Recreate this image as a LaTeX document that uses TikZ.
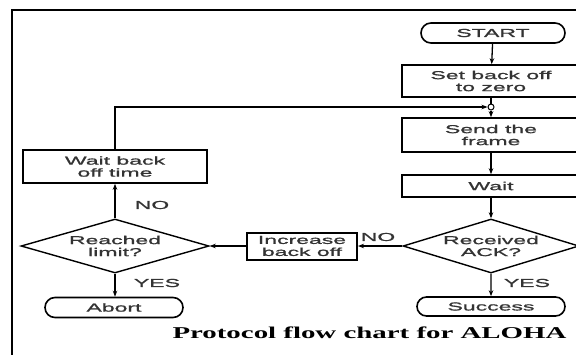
\documentclass[tikz,border=0pt]{standalone}
\usepackage{fontspec}
\newfontfamily\nf[FakeStretch=2.0,FakeBold=1.2]{Liberation Sans}
\newfontfamily\cf[FakeStretch=1.75]{Liberation Serif}
\usetikzlibrary{arrows.meta,shapes.geometric,shapes.misc}
\begin{document}
\begin{tikzpicture}[x=1pt,y=-1pt,
  every node/.style={font=\nf\fontsize{11.5}{12}\selectfont, text=black!80},
  proc/.style={draw, line width=1.6pt, align=center, inner sep=0pt},
  term/.style={draw, line width=1.6pt, rounded rectangle, inner sep=0pt},
  dec/.style={draw, diamond, line width=1.4pt, align=center, inner sep=0pt, aspect=3.2},
  conn/.style={line width=1.3pt, -{Stealth[length=6pt,width=4.5pt]}},
  lbl/.style={inner sep=0pt}
]
\useasboundingbox (0,0) rectangle (576,354);
\draw[line width=2.6pt] (590,10) -- (12,10) -- (12,360);

\node[term, minimum width=144pt, minimum height=20pt] (start) at (493,33) {START};
\node[proc, minimum width=178pt, minimum height=32pt] (set) at (491,81) {Set back off\\to zero};
\node[circle, draw, line width=1pt, minimum size=6pt, inner sep=0pt] (j) at (491,107) {};
\node[proc, minimum width=178pt, minimum height=34pt] (send) at (491,135) {Send the\\frame};
\node[proc, minimum width=178pt, minimum height=22pt] (wait) at (491,186) {Wait};
\node[dec, minimum width=176pt, minimum height=54pt] (ack) at (491,246) {Received\\ACK?};
\node[term, minimum width=148pt, minimum height=19pt] (succ) at (491,306.5) {Success};

\node[proc, minimum width=184pt, minimum height=33pt] (wbo) at (115,166.5) {Wait back\\off time};
\node[dec, minimum width=188pt, minimum height=54pt] (lim) at (115,246) {Reached\\limit?};
\node[term, minimum width=138pt, minimum height=20pt] (abort) at (114,307.5) {Abort};
\node[proc, line width=2pt, minimum width=110pt, minimum height=27pt] (inc) at (302,246) {Increase\\back off};

\draw[conn] (start) -- (set);
\draw[line width=1.3pt] (set) -- (j);
\draw[conn] (j) -- (send);
\draw[conn] (send) -- (wait);
\draw[conn] (wait) -- (ack);
\draw[conn] (ack) -- (succ);
\draw[conn] (ack) -- (inc);
\draw[conn] (inc) -- (lim);
\draw[conn] (lim) -- (wbo);
\draw[conn] (lim.south) -- (lim.south |- abort.north);
\draw[conn] (wbo.north) |- (j.west);

\node[lbl] (no1) at (152,205) {NO};
\node[lbl] (yes1) at (157,283) {YES};
\node[lbl] (yes2) at (527,283) {YES};
\node[lbl] (no2) at (378,237) {NO};

\node[inner sep=0pt, text=black] (cap) at (369.5,333) {\cf\bfseries\fontsize{16.5}{18}\selectfont Protocol flow chart for ALOHA};
\end{tikzpicture}
\end{document}
